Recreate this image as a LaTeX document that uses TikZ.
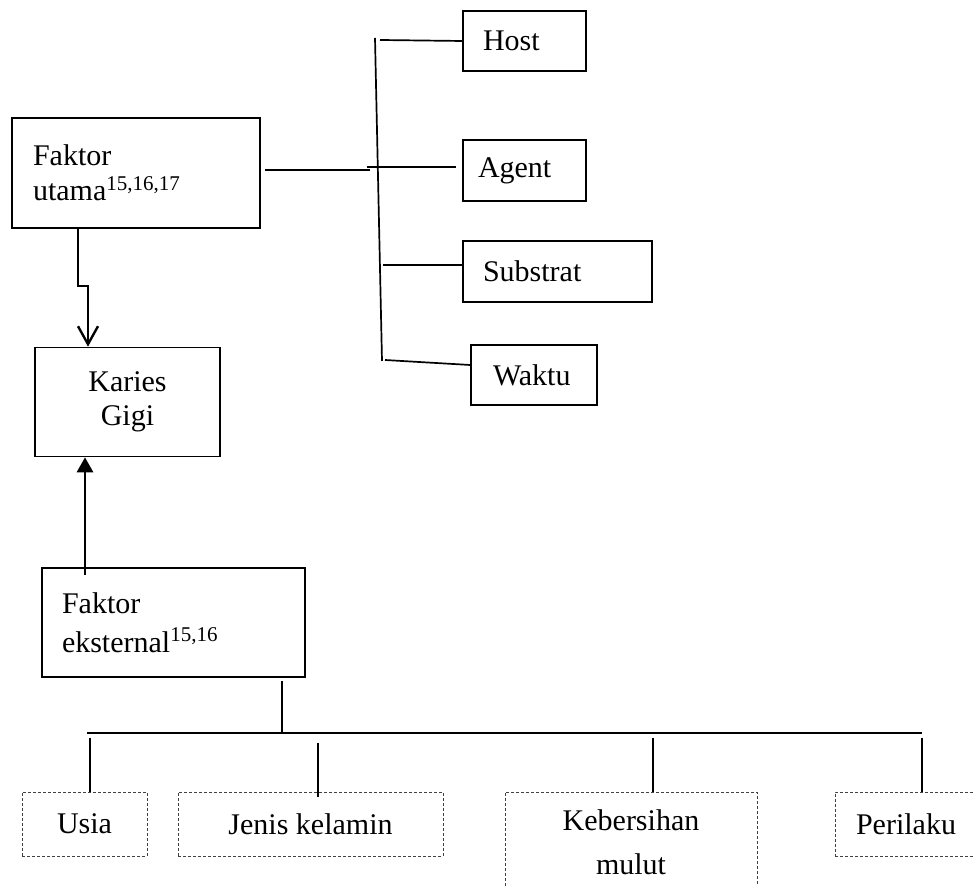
\documentclass[tikz,border=0pt]{standalone}
\usepackage{fontspec}
\setmainfont{Liberation Serif}
\usetikzlibrary{arrows.meta}

\begin{document}
\begin{tikzpicture}[x=0.5pt, y=-0.5pt,
  box/.style={draw, line width=0.8pt, align=left, inner ysep=0pt,
    font=\fontsize{15}{17.5}\selectfont},
  dashbox/.style={draw=black!75, line width=0.45pt, dash pattern=on 1.5pt off 1pt,
    align=center, inner sep=0pt, minimum height=32pt,
    font=\fontsize{15}{18}\selectfont},
  branch/.style={line width=0.85pt},
  stem/.style={line width=1.4pt},
  openarrow/.style={-{Straight Barb[length=9pt, width=10pt]}, line width=1.2pt},
  fillarrow/.style={-{Triangle[length=7.5pt, width=8pt]}, line width=1.4pt}
]
\clip (0,0) rectangle (975,886);

\node[box, text width=103pt, inner xsep=10.5pt, minimum height=55pt] (utama) at (136,173)
  {Faktor\\utama\textsuperscript{15,16,17}};
\node[box, text width=82.5pt, inner xsep=5pt, minimum height=54.5pt, align=center,
  font=\fontsize{15}{17}\selectfont] (karies) at (127.5,402) {Karies\\Gigi};
\node[box, text width=111.5pt, inner xsep=10pt, minimum height=54.5pt,
  font=\fontsize{15}{19.5}\selectfont] (ekst) at (173.5,622.5)
  {Faktor\\eksternal\textsuperscript{15,16}};

\node[box, text width=41.5pt, inner xsep=10pt, minimum height=30pt] (host) at (524.5,41) {Host};
\node[box, text width=46.5pt, inner xsep=7.5pt, minimum height=30.5pt] (agent) at (524.5,170.5) {Agent};
\node[box, text width=74.5pt, inner xsep=10pt, minimum height=30.5pt] (substrat) at (557.5,271.5) {Substrat};
\node[box, text width=41pt, inner xsep=11pt, minimum height=30pt] (waktu) at (534,375) {Waktu};

\node[dashbox, minimum width=62.5pt] (usia) at (84.5,824) {Usia};
\node[dashbox, minimum width=132.5pt] (jenis) at (310.5,824) {Jenis kelamin};
\node[dashbox, minimum width=126pt, minimum height=50pt,
  font=\fontsize{15}{22}\selectfont] (keb) at (631,842) {Kebersihan\\mulut};
\node[dashbox, minimum width=71pt] (perilaku) at (906,824) {Perilaku};

% cabang faktor utama
\coordinate (tt) at (375,38);
\coordinate (tb) at (382,361);
\coordinate (uj) at (370,170);
\coordinate (hb) at (380,40);
\coordinate (ab) at (367,167);
\coordinate (sb) at (383,265);
\coordinate (wb) at (385,360);
\draw[branch] (tt) -- (tb);
\draw[branch, shorten <=2pt] (utama.east |- uj) -- (uj);
\draw[branch] (hb) -- (host.west);
\draw[branch, shorten >=3pt] (ab) -- (ab -| agent.west);
\draw[branch] (sb) -- (sb -| substrat.west);
\draw[branch] (wb) -- ([yshift=5pt]waktu.west);

% panah ke karies gigi
\draw[openarrow] ([xshift=33.5pt]utama.south west) -- ++(0,57) -| ([xshift=-19.75pt]karies.north);
\coordinate (ea) at (85,575);
\draw[fillarrow] (ea) -- (karies.south -| ea);

% cabang faktor eksternal
\coordinate (bj) at (282,733);
\coordinate (barL) at (87,733);
\coordinate (barR) at (922,733);
\coordinate (s1) at (90,738);
\coordinate (s2) at (318,743);
\coordinate (s3) at (653,738);
\coordinate (s4) at (922,738);
\draw[stem, shorten <=1.5pt] (ekst.south -| bj) -- (bj);
\draw[stem] (barL) -- (barR);
\draw[stem] (s1) -- (usia.north -| s1);
\draw[stem] (s2) -- ([yshift=-2.5pt]jenis.north -| s2);
\draw[stem] (s3) -- (keb.north -| s3);
\draw[stem] (s4) -- (perilaku.north -| s4);
\end{tikzpicture}
\end{document}
